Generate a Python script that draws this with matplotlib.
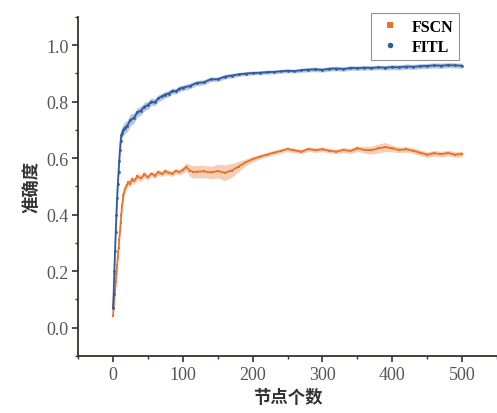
import matplotlib
matplotlib.use('Agg')
import matplotlib.pyplot as plt
import numpy as np
from matplotlib.ticker import MultipleLocator

# FITL (blue)
x_fitl = [0, 1, 2, 3, 4, 5, 6, 7, 8, 9, 10, 11, 12, 13, 15, 17, 20, 25, 30, 35,
          40, 45, 50, 55, 60, 65, 70, 75, 80, 85, 90, 95, 100, 110, 120, 130, 140,
          150, 160, 170, 180, 190, 200, 210, 220, 230, 240, 250, 260, 270, 280,
          290, 300, 310, 320, 330, 340, 350, 360, 370, 380, 390, 400, 410, 420,
          430, 440, 450, 460, 470, 480, 490, 500]
y_fitl = [0.07, 0.12, 0.20, 0.27, 0.34, 0.40, 0.46, 0.51, 0.55, 0.59, 0.63, 0.66,
          0.68, 0.69, 0.70, 0.708, 0.712, 0.735, 0.742, 0.762, 0.768, 0.782, 0.787,
          0.80, 0.797, 0.812, 0.818, 0.825, 0.828, 0.838, 0.836, 0.846, 0.849,
          0.855, 0.866, 0.868, 0.879, 0.879, 0.888, 0.892, 0.896, 0.899, 0.901,
          0.902, 0.904, 0.905, 0.907, 0.909, 0.908, 0.911, 0.913, 0.914, 0.912,
          0.916, 0.917, 0.915, 0.919, 0.918, 0.920, 0.919, 0.921, 0.920, 0.922,
          0.921, 0.924, 0.923, 0.925, 0.926, 0.928, 0.927, 0.929, 0.928, 0.927]
e_fitl = [0.01, 0.02, 0.03, 0.03, 0.03, 0.03, 0.03, 0.03, 0.03, 0.03, 0.03, 0.03,
          0.025, 0.02, 0.02, 0.02, 0.02, 0.02, 0.018, 0.016, 0.015, 0.015, 0.014,
          0.013, 0.012, 0.012, 0.012, 0.011, 0.011, 0.01, 0.01, 0.01, 0.01, 0.01,
          0.009, 0.009, 0.008, 0.008, 0.008, 0.008, 0.007, 0.007, 0.007, 0.007,
          0.007, 0.007, 0.007, 0.007, 0.007, 0.007, 0.008, 0.008, 0.008, 0.008,
          0.008, 0.008, 0.008, 0.008, 0.008, 0.008, 0.008, 0.008, 0.009, 0.009,
          0.009, 0.009, 0.009, 0.009, 0.009, 0.009, 0.009, 0.009, 0.009]

# FSCN (orange)
x_fscn = [0, 1, 2, 3, 4, 5, 6, 7, 8, 9, 10, 11, 12, 13, 14, 15, 17, 20, 22, 25,
          27, 30, 35, 40, 45, 50, 55, 60, 65, 70, 75, 80, 85, 90, 95, 100, 105,
          110, 115, 120, 130, 140, 150, 160, 170, 180, 190, 200, 210, 220, 230,
          240, 250, 260, 270, 280, 290, 300, 310, 320, 330, 340, 350, 360, 370,
          380, 390, 400, 410, 420, 430, 440, 450, 460, 470, 480, 490, 500]
y_fscn = [0.04, 0.07, 0.10, 0.13, 0.16, 0.19, 0.22, 0.25, 0.28, 0.31, 0.34, 0.37,
          0.40, 0.43, 0.45, 0.47, 0.49, 0.505, 0.515, 0.51, 0.525, 0.518, 0.535,
          0.528, 0.542, 0.532, 0.545, 0.538, 0.55, 0.544, 0.553, 0.548, 0.545,
          0.555, 0.55, 0.558, 0.568, 0.556, 0.551, 0.552, 0.553, 0.549, 0.554, 0.548,
          0.556, 0.57, 0.585, 0.596, 0.605, 0.612, 0.619, 0.625, 0.632, 0.627,
          0.623, 0.632, 0.628, 0.631, 0.626, 0.623, 0.629, 0.625, 0.634, 0.629,
          0.628, 0.634, 0.639, 0.634, 0.629, 0.631, 0.626, 0.619, 0.612, 0.617,
          0.614, 0.618, 0.612, 0.615]
e_fscn = [0.005, 0.008, 0.01, 0.01, 0.01, 0.01, 0.01, 0.01, 0.01, 0.01, 0.01, 0.01,
          0.012, 0.012, 0.012, 0.012, 0.012, 0.012, 0.012, 0.012, 0.012, 0.012,
          0.012, 0.012, 0.012, 0.01, 0.01, 0.01, 0.01, 0.01, 0.01, 0.01, 0.01,
          0.01, 0.01, 0.012, 0.015, 0.02, 0.022, 0.022, 0.022, 0.022, 0.024,
          0.028, 0.025, 0.018, 0.012, 0.01, 0.008, 0.008, 0.008, 0.008, 0.008,
          0.008, 0.008, 0.008, 0.008, 0.008, 0.008, 0.008, 0.008, 0.01, 0.01,
          0.012, 0.014, 0.016, 0.016, 0.012, 0.01, 0.01, 0.01, 0.01, 0.01, 0.01,
          0.01, 0.01, 0.01, 0.01]

c_fscn = '#E8732C'
c_fitl = '#2F5B9E'
axcol = '#3b2f2f'

plt.rcParams['font.family'] = ['Liberation Serif', 'Noto Sans CJK SC']

fig = plt.figure(figsize=(4.97, 4.14), dpi=100)
ax = fig.add_axes([0.157, 0.138, 0.843, 0.819])

xf = np.array(x_fscn); yf = np.array(y_fscn); ef = np.array(e_fscn)
xb = np.array(x_fitl); yb = np.array(y_fitl); eb = np.array(e_fitl)

ax.fill_between(xf, yf - ef, yf + ef, color=c_fscn, alpha=0.35, lw=0)
ax.fill_between(xb, yb - eb, yb + eb, color=c_fitl, alpha=0.35, lw=0)
ax.plot(xf, yf, color=c_fscn, lw=1.3, marker='s', ms=1.5, mew=0, label='FSCN')
ax.plot(xb, yb, color=c_fitl, lw=1.3, marker='o', ms=2.0, mew=0, label='FITL')

ax.set_xlim(-50, 550)
ax.set_ylim(-0.1, 1.1)
ax.xaxis.set_major_locator(MultipleLocator(100))
ax.xaxis.set_minor_locator(MultipleLocator(50))
ax.yaxis.set_minor_locator(MultipleLocator(0.1))
ax.set_yticks([0.0, 0.2, 0.4, 0.6, 0.8, 1.0])
ax.set_yticklabels(['0.0', '0.2', '0.4', '0.6', '0.8', '1.0'])

for s in ['top', 'right']:
    ax.spines[s].set_visible(False)
for s in ['left', 'bottom']:
    ax.spines[s].set_color(axcol)
    ax.spines[s].set_linewidth(1.3)
ax.tick_params(which='major', direction='out', length=4, width=1.2, color=axcol,
               labelsize=13, labelcolor='#555555', pad=3)
ax.tick_params(which='minor', direction='out', length=2.5, width=1.0, color=axcol)

ax.set_xlabel('节点个数', fontsize=12.5, fontweight='bold', color='#333333',
              family=['Noto Sans CJK SC'], labelpad=4)
ax.set_ylabel('准确度', fontsize=12.5, fontweight='bold', color='#333333',
              family=['Noto Sans CJK SC'], labelpad=4)

leg = fig.legend(loc='upper right', bbox_to_anchor=(0.94, 0.985),
                 prop={'family': 'Liberation Serif', 'size': 11.5, 'weight': 'bold'},
                 frameon=True, fancybox=False, edgecolor='#777777',
                 handlelength=1.6, handletextpad=0.6,
                 borderpad=0.35, labelspacing=0.25)
for h in leg.legend_handles:
    h.set_linestyle('none')
    h.set_markersize(4)
leg.get_frame().set_linewidth(0.8)

fig.savefig('out.png', dpi=100)
